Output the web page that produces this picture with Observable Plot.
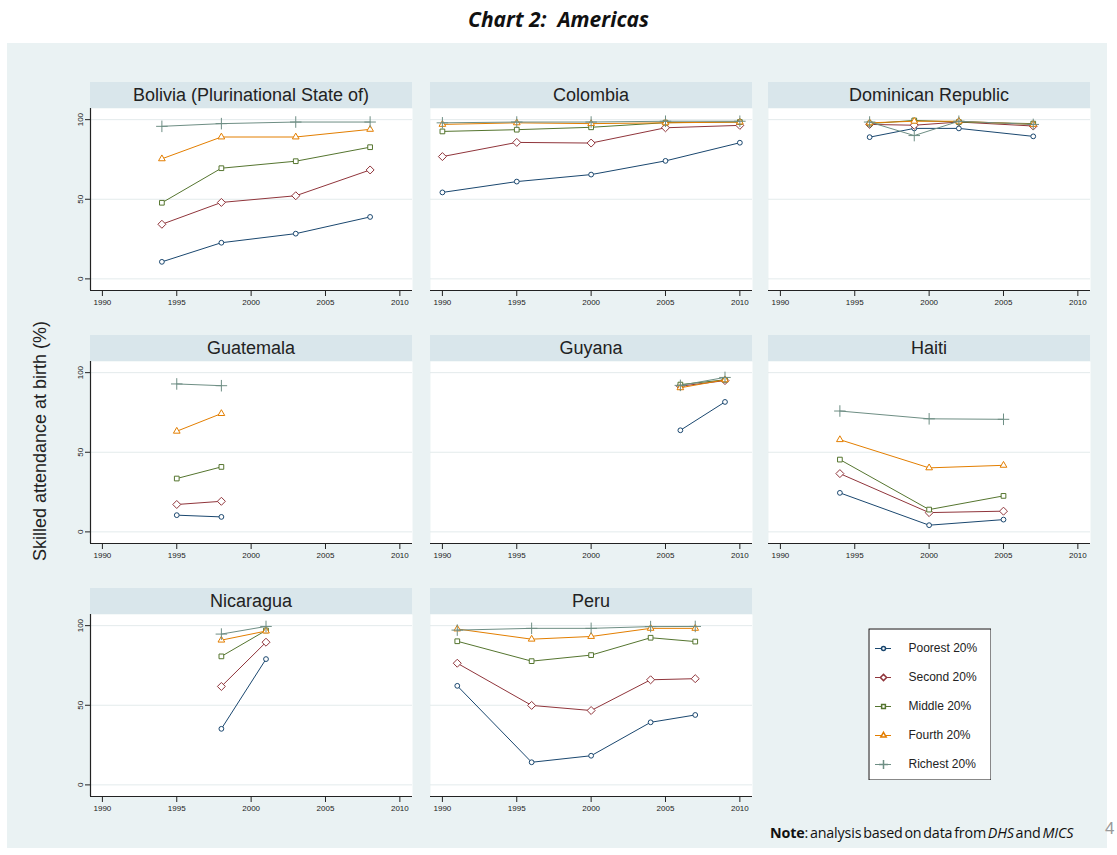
<!DOCTYPE html>
<html>
<head>
<meta charset="utf-8">
<script src="https://cdn.jsdelivr.net/npm/d3@7"></script>
<script src="https://cdn.jsdelivr.net/npm/@observablehq/plot@0.6"></script>
<style>
  body { margin: 0; background: #fff; font-family: Arial, "Liberation Sans", sans-serif; }
  #page { position: relative; width: 1117px; height: 855px; overflow: hidden; background: #fff; }
  #title { position: absolute; left: 0; top: 5px; width: 1117px; text-align: center;
           font: italic 700 21px "Open Sans", sans-serif; color: #111; }
  #region { position: absolute; left: 7px; top: 43px; width: 1100px; height: 805px; background: #eaf2f3; }
  .strip { position: absolute; height: 26px; line-height: 27px; background: #d9e6eb; color: #222;
           font-size: 18px; text-align: center; white-space: nowrap; }
  .panel { position: absolute; }
  #ytitle { position: absolute; left: 40px; top: 441px; transform: translate(-50%, -50%) rotate(-90deg);
            white-space: nowrap; font-size: 18px; color: #222; }
  #note { position: absolute; left: 770px; top: 823px; font: 14.3px "Open Sans", sans-serif; color: #111;
          word-spacing: -1.8px; letter-spacing: -0.15px; white-space: nowrap; }
  #pageno { position: absolute; left: 1105px; top: 819px; font-size: 17px; color: #9a9a9a; }
</style>
</head>
<body>
<div id="page">
  <div id="title">Chart 2:&nbsp; Americas</div>
  <div id="region"></div>
  <div id="ytitle">Skilled attendance at birth (%)</div>
  <div id="note"><b>Note</b>: analysis based on data from <i>DHS</i> and <i>MICS</i></div>
  <div id="pageno">4</div>
</div>
<script>
// ---- Data: skilled attendance at birth (%) by wealth quintile ----
const quintiles = ["Poorest 20%", "Second 20%", "Middle 20%", "Fourth 20%", "Richest 20%"];
const countries = ["Bolivia (Plurinational State of)", "Colombia", "Dominican Republic",
                   "Guatemala", "Guyana", "Haiti", "Nicaragua", "Peru"];
const yearTicks = [1990, 1995, 2000, 2005, 2010];
const yTicks = [0, 50, 100];

// rows follow the quintile order: Poorest, Second, Middle, Fourth, Richest
const boliviaYears = [1994, 1998, 2003, 2008];
const bolivia = [
  [10.7, 22.7, 28.4, 38.9],
  [34.3, 48.0, 52.2, 68.4],
  [47.8, 69.5, 73.9, 82.7],
  [75.4, 89.1, 89.1, 93.9],
  [95.8, 97.5, 98.5, 98.5]
];
const colombiaYears = [1990, 1995, 2000, 2005, 2010];
const colombia = [
  [54.3, 61.1, 65.5, 74.1, 85.5],
  [76.8, 85.7, 85.3, 94.9, 96.4],
  [92.6, 93.7, 95.2, 98.1, 98.5],
  [97.0, 98.0, 97.5, 98.0, 98.5],
  [98.0, 98.5, 98.5, 99.0, 99.0]
];
const dominicanYears = [1996, 1999, 2002, 2007];
const dominican = [
  [89.0, 94.5, 94.5, 89.5],
  [97.0, 96.5, 98.5, 96.0],
  [97.5, 99.5, 98.5, 97.5],
  [98.0, 99.0, 99.0, 97.0],
  [98.5, 90.0, 99.0, 97.0]
];
const guatemalaYears = [1995, 1998];
const guatemala = [
  [10.5, 9.4],
  [17.2, 19.2],
  [33.5, 40.8],
  [63.2, 74.3],
  [92.9, 91.8]
];
const guyanaYears = [2006, 2009];
const guyana = [
  [63.8, 81.6],
  [91.5, 95.0],
  [92.5, 95.5],
  [90.5, 95.5],
  [92.0, 97.0]
];
const haitiYears = [1994, 2000, 2005];
const haiti = [
  [24.5, 4.2, 7.7],
  [36.6, 12.1, 13.0],
  [45.4, 14.0, 22.6],
  [57.9, 40.2, 41.8],
  [75.9, 71.0, 70.7]
];
const nicaraguaYears = [1998, 2001];
const nicaragua = [
  [35.2, 79.0],
  [61.8, 89.6],
  [80.7, 97.0],
  [90.9, 96.6],
  [94.7, 99.5]
];
const peruYears = [1991, 1996, 2000, 2004, 2007];
const peru = [
  [62.2, 14.2, 18.3, 39.3, 43.9],
  [76.4, 49.9, 46.7, 66.0, 66.7],
  [90.2, 77.7, 81.5, 92.4, 90.0],
  [97.9, 91.5, 93.2, 98.3, 98.3],
  [97.2, 98.3, 98.3, 99.4, 99.5]
];

const panelYears = [boliviaYears, colombiaYears, dominicanYears, guatemalaYears,
                    guyanaYears, haitiYears, nicaraguaYears, peruYears];
const panelValues = [bolivia, colombia, dominican, guatemala, guyana, haiti, nicaragua, peru];

// ---- Styles ----
const colors = ["#1a476f", "#90353b", "#55752f", "#e37e00", "#6e8e84"];
const symbols = ["circle", "diamond2", "square2", "triangle2", "plus"];
const markerR = [2.4, 3.6, 3.0, 3.2, 3.8];
const legendR = [2.0, 2.8, 2.4, 2.6, 3.0];

// ---- Layout of the 3x3 grid of panels ----
const colLeft = [90, 430, 768];   // left edge of each panel's plot area
const rowTop = [82, 335, 588];    // top edge of each panel's title strip
const stripH = 26, frameW = 322, frameH = 182;
const mL = 34, mR = 4, mB = 24;
const xDomain = [1989.2, 2010.85];
const yDomain = [-7.3, 107];

const page = document.getElementById("page");

countries.forEach((country, i) => {
  const col = i % 3, row = Math.floor(i / 3);
  const years = panelYears[i], values = panelValues[i];
  const rows = quintiles.flatMap((q, k) =>
    years.map((year, j) => ({quintile: q, year, value: values[k][j]})));

  const strip = document.createElement("div");
  strip.className = "strip";
  strip.style.left = colLeft[col] + "px";
  strip.style.top = rowTop[row] + "px";
  strip.style.width = frameW + "px";
  strip.textContent = country;
  page.appendChild(strip);

  const marks = [
    Plot.frame({fill: "white", stroke: null}),
    Plot.ruleY(yTicks, {stroke: "#e3ebec", strokeWidth: 1}),
    Plot.ruleY([yDomain[0]], {stroke: "#222", strokeWidth: 1.2}),
    Plot.axisX({ticks: yearTicks, tickFormat: "d", tickSize: 6, tickPadding: 3, label: null})
  ];
  // only the first column carries the shared y axis
  if (col === 0) {
    marks.push(Plot.ruleX([xDomain[0]], {stroke: "#222", strokeWidth: 1.2}));
    marks.push(Plot.axisY({ticks: yTicks, tickSize: 5, tickPadding: 3, tickRotate: -90, label: null}));
  }
  quintiles.forEach((q, k) => {
    const series = rows.filter(d => d.quintile === q);
    marks.push(Plot.line(series, {x: "year", y: "value", stroke: "quintile", strokeWidth: 1}));
    marks.push(Plot.dot(series, {x: "year", y: "value", stroke: "quintile", symbol: "quintile",
                                 fill: "white", r: markerR[k], strokeWidth: 1}));
  });

  const svg = Plot.plot({
    width: mL + frameW + mR,
    height: frameH + mB,
    marginLeft: mL, marginRight: mR, marginTop: 0, marginBottom: mB,
    style: {background: "transparent", fontFamily: "Arial, 'Liberation Sans', sans-serif",
            fontSize: "8px", color: "#222", overflow: "visible"},
    x: {domain: xDomain},
    y: col === 0 ? {domain: yDomain} : {domain: yDomain, axis: null},
    color: {domain: quintiles, range: colors},
    symbol: {domain: quintiles, range: symbols},
    marks
  });
  svg.classList.add("panel");
  svg.style.position = "absolute";
  svg.style.left = (colLeft[col] - mL) + "px";
  svg.style.top = (rowTop[row] + stripH) + "px";
  page.appendChild(svg);
});

// ---- Legend ----
const legend = Plot.plot({
  width: 123, height: 152, margin: 0,
  style: {background: "white", fontFamily: "Arial, 'Liberation Sans', sans-serif",
          fontSize: "12px", color: "#222"},
  x: {domain: [0, 1], axis: null},
  y: {domain: quintiles, range: [19, 136], padding: 0, axis: null},
  color: {domain: quintiles, range: colors},
  symbol: {domain: quintiles, range: symbols},
  marks: [
    Plot.frame({stroke: "#111", inset: 0.5}),
    ...quintiles.map((q, k) => Plot.ruleY([q], {y: d => d, stroke: d => d, insetLeft: 7, insetRight: 100})),
    ...quintiles.map((q, k) => Plot.dot([q], {y: d => d, frameAnchor: "left", dx: 15,
                                               symbol: d => d, stroke: d => d, fill: "white", r: legendR[k]})),
    Plot.text(quintiles, {y: d => d, text: d => d, frameAnchor: "left", dx: 40, textAnchor: "start"})
  ]
});
legend.style.position = "absolute";
legend.style.left = "868px";
legend.style.top = "628px";
page.appendChild(legend);
</script>
</body>
</html>
